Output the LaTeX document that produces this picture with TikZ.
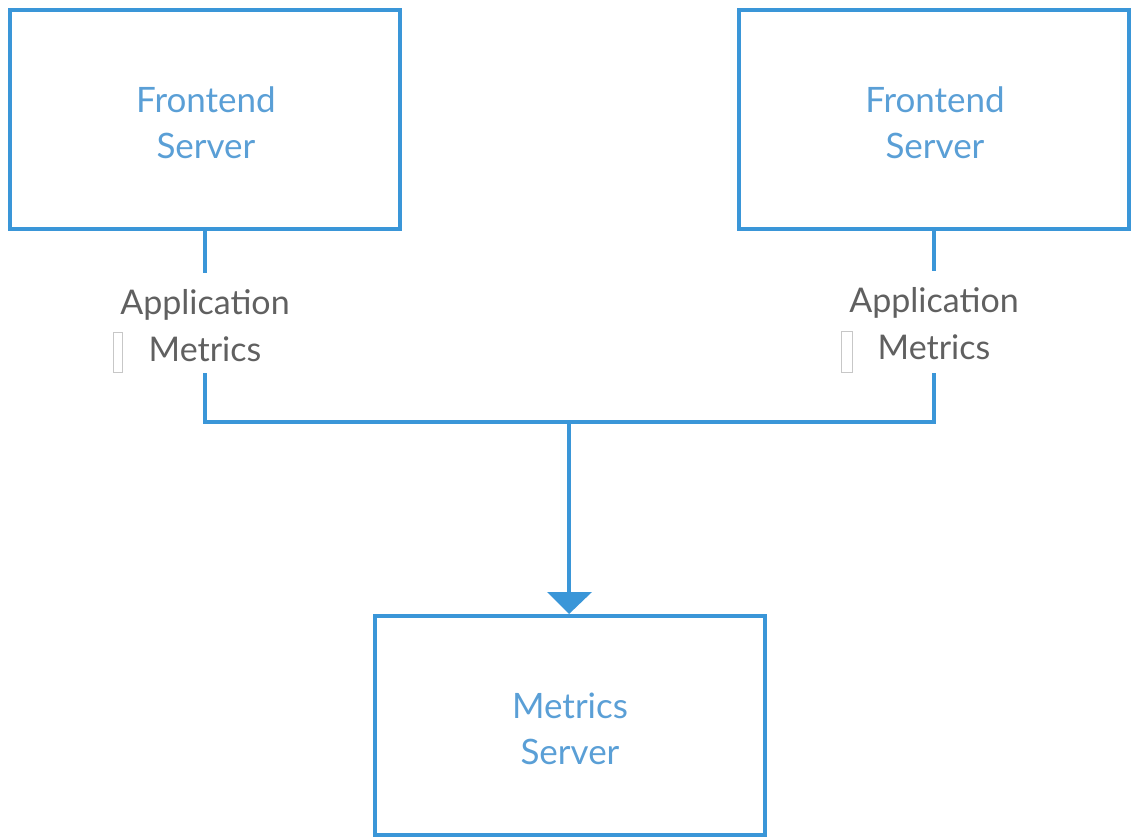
\documentclass[tikz,border=0pt]{standalone}
\usepackage{fontspec}
\setmainfont{Lato}
\begin{document}
\begin{tikzpicture}[x=1pt,y=-1pt,
  boxc/.style={draw=lineblue,line width=4.5pt,minimum width=390pt,minimum height=219pt,inner sep=0pt},
  boxtext/.style={text=textblue,font=\fontsize{35}{46}\selectfont,align=center,inner sep=0pt},
  lbl/.style={text=labelgray,font=\fontsize{34}{47}\selectfont,align=center,inner sep=0pt},
  conn/.style={draw=lineblue,line width=3.5pt},
  ghost/.style={draw=black!22,line width=0.9pt}]
\definecolor{lineblue}{HTML}{3A96D8}
\definecolor{textblue}{HTML}{5A9FD6}
\definecolor{labelgray}{HTML}{606060}
\useasboundingbox (0,0) rectangle (1131,837);
\node[boxc] (fl) at (205,119.5) {};
\node[boxc] (fr) at (934,119.5) {};
\node[boxc] (ms) at (570,725.5) {};
\node[boxtext] (flt) at (206,123) {Frontend\\Server};
\node[boxtext] (frt) at (935,123) {Frontend\\Server};
\node[boxtext] (mst) at (570,729) {Metrics\\Server};
\node[lbl] (al) at (205,326) {Application\\Metrics};
\node[lbl] (ar) at (934,324) {Application\\Metrics};
\coordinate (l1) at (205,273);
\coordinate (l2) at (205,373);
\coordinate (r1) at (934,271);
\coordinate (r2) at (934,373);
\coordinate (jl) at (205,422);
\coordinate (jr) at (934,422);
\coordinate (jc) at (569,422);
\coordinate (tip) at (569,614);
\draw[conn] (fl.south) -- (l1);
\draw[conn] (fr.south) -- (r1);
\draw[conn] (l2) -- (jl) -- (jr) -- (r2);
\draw[conn] (jc) -- (569,600);
\fill[lineblue] (547,592) -- (592,592) -- (tip) -- cycle;
\draw[ghost] (113.5,332.5) rectangle (122.5,372.5);
\draw[ghost] (841.5,331.5) rectangle (852.5,372.5);
\end{tikzpicture}
\end{document}
